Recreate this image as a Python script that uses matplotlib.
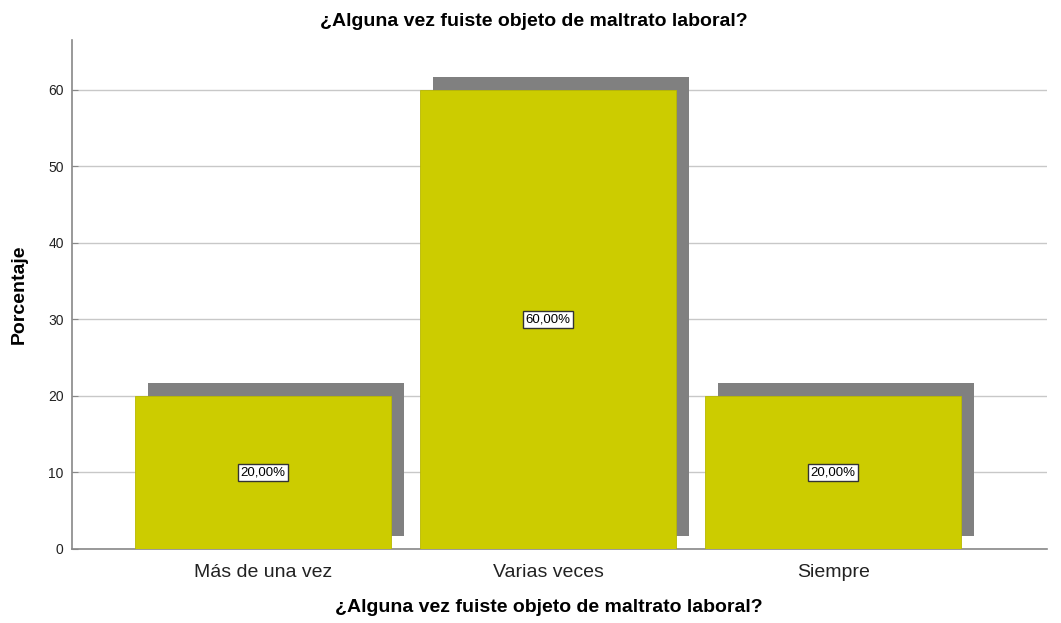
import matplotlib
matplotlib.use("Agg")
import matplotlib.pyplot as plt
from matplotlib.transforms import ScaledTranslation

categories = ["Más de una vez", "Varias veces", "Siempre"]
values = [20.0, 60.0, 20.0]
labels = ["20,00%", "60,00%", "20,00%"]
yticks = [0, 10, 20, 30, 40, 50, 60]

plt.rcParams['font.family'] = ['Liberation Sans', 'DejaVu Sans']

fig = plt.figure(figsize=(10.61, 6.23), dpi=100)
ax = fig.add_axes([0.0679, 0.1188, 0.9189, 0.817])

x = list(range(len(categories)))
shadow_tr = ax.transData + ScaledTranslation(13 / 100, 13 / 100, fig.dpi_scale_trans)
ax.bar(x, values, width=0.9, color="#808080", transform=shadow_tr, zorder=2)
ax.bar(x, values, width=0.9, color="#CCCC00", edgecolor="#B8B800", linewidth=0.6, zorder=3)

for xi, v, lab in zip(x, values, labels):
    ax.text(xi, v / 2, lab, ha="center", va="center", fontsize=9.5, zorder=5,
            bbox=dict(boxstyle="square,pad=0.2", facecolor="white", edgecolor="#333333", linewidth=1))

ax.set_xlim(-0.67, 2.75)
ax.set_ylim(0, 66.5)
ax.set_yticks(yticks)
ax.set_yticklabels([str(t) for t in yticks], fontsize=10)
ax.set_xticks(x)
ax.set_xticklabels(categories, fontsize=14)
ax.tick_params(axis="x", length=0, pad=11, colors="#222222")
ax.tick_params(axis="y", length=4, direction="in", pad=6, color="#888888", labelcolor="#222222")
ax.yaxis.grid(True, color="#c8c8c8", linewidth=1)
ax.set_axisbelow(True)

for s in ["top", "right"]:
    ax.spines[s].set_visible(False)
for s in ["left", "bottom"]:
    ax.spines[s].set_color("#888888")
    ax.spines[s].set_linewidth(1.2)

fig.text(534 / 1061, 1 - 22 / 623, "¿Alguna vez fuiste objeto de maltrato laboral?",
         fontsize=14, fontweight="bold", ha="center", va="center")
fig.text(549 / 1061, 1 - 608 / 623, "¿Alguna vez fuiste objeto de maltrato laboral?",
         fontsize=14, fontweight="bold", ha="center", va="center")
ax.set_ylabel("Porcentaje", fontsize=14, fontweight="bold", labelpad=15)

fig.savefig("out.png", dpi=100)
